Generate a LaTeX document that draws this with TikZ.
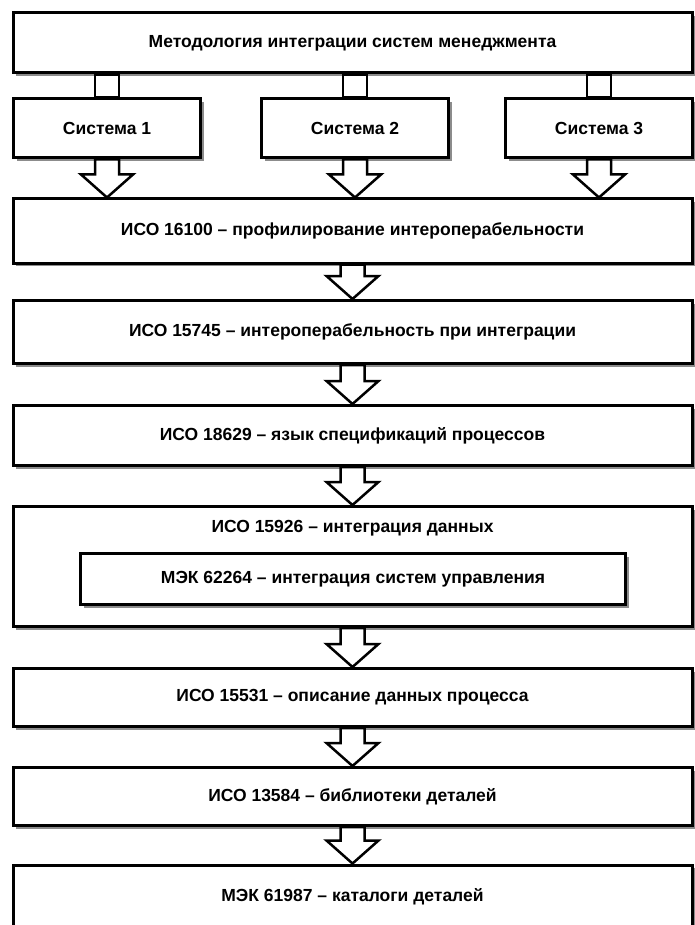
\documentclass[tikz,border=0pt]{standalone}
\usepackage{fontspec}
\setmainfont{Liberation Sans}
\usetikzlibrary{calc}
\usetikzlibrary{shadows}

\tikzset{
  blk/.style={draw, line width=3pt, fill=white, rectangle, inner sep=0pt,
    drop shadow={shadow xshift=3pt, shadow yshift=-3pt, fill=black!45, opacity=1},
    font=\fontsize{17.5}{20}\selectfont\bfseries},
  lbl/.style={font=\fontsize{17.5}{20}\selectfont\bfseries, inner sep=0pt},
  arrbox/.style={draw, line width=2.5pt, fill=white}
}
% hollow arrow from the bottom of #1 down to the top of #2
\newcommand{\flowarrow}[2]{%
  \draw[arrbox] ($(#1.south)+(-\sw,0)$) -- ($(#1.south)+(\sw,0)$)
    -- ($(#2.north -| #1.south)+(\sw,-\hh)$) -- ($(#2.north -| #1.south)+(\hw,-\hh)$)
    -- (#2.north -| #1.south)
    -- ($(#2.north -| #1.south)+(-\hw,-\hh)$) -- ($(#2.north -| #1.south)+(-\sw,-\hh)$) -- cycle;}

\begin{document}
\begin{tikzpicture}[x=1pt,y=-1pt]
  \pgfmathsetmacro{\sw}{12}
  \pgfmathsetmacro{\hw}{26}
  \pgfmathsetmacro{\hh}{23}
  \useasboundingbox (0,0) rectangle (695,925);
  \clip (0,0) rectangle (695,925);

  \node[blk, minimum width=679pt, minimum height=60pt] (top) at (352.5,43) {Методология интеграции систем менеджмента};
  \foreach \i/\cx in {1/107,2/355,3/599}{
    \node[blk, minimum width=187pt, minimum height=59pt] (s\i) at (\cx,128.5) {Система \i};
    \draw[arrbox] ($(top.south -| s\i)+(-\sw,0)$) rectangle ($(s\i.north)+(\sw,0)$);
  }

  \node[blk, minimum width=679pt, minimum height=64pt] (iso16100) at (352.5,231) {ИСО 16100 – профилирование интероперабельности};
  \node[blk, minimum width=679pt, minimum height=63pt] (iso15745) at (352.5,332) {ИСО 15745 – интероперабельность при интеграции};
  \node[blk, minimum width=679pt, minimum height=60pt] (iso18629) at (352.5,435.5) {ИСО 18629 – язык спецификаций процессов};
  \node[blk, minimum width=679pt, minimum height=120pt] (iso15926) at (352.5,566.5) {};
  \node[lbl] (iso15926t) at (352.5,528) {ИСО 15926 – интеграция данных};
  \node[blk, minimum width=545pt, minimum height=51pt] (iec62264) at (353,579) {МЭК 62264 – интеграция систем управления};
  \node[blk, minimum width=679pt, minimum height=58pt] (iso15531) at (352.5,697.5) {ИСО 15531 – описание данных процесса};
  \node[blk, minimum width=679pt, minimum height=58pt] (iso13584) at (352.5,796.5) {ИСО 13584 – библиотеки деталей};
  \node[blk, minimum width=679pt, minimum height=64pt] (iec61987) at (352.5,897) {МЭК 61987 – каталоги деталей};

  \foreach \i in {1,2,3}
    \flowarrow{s\i}{iso16100};
  \flowarrow{iso16100}{iso15745}
  \flowarrow{iso15745}{iso18629}
  \flowarrow{iso18629}{iso15926}
  \flowarrow{iso15926}{iso15531}
  \flowarrow{iso15531}{iso13584}
  \flowarrow{iso13584}{iec61987}
\end{tikzpicture}
\end{document}
